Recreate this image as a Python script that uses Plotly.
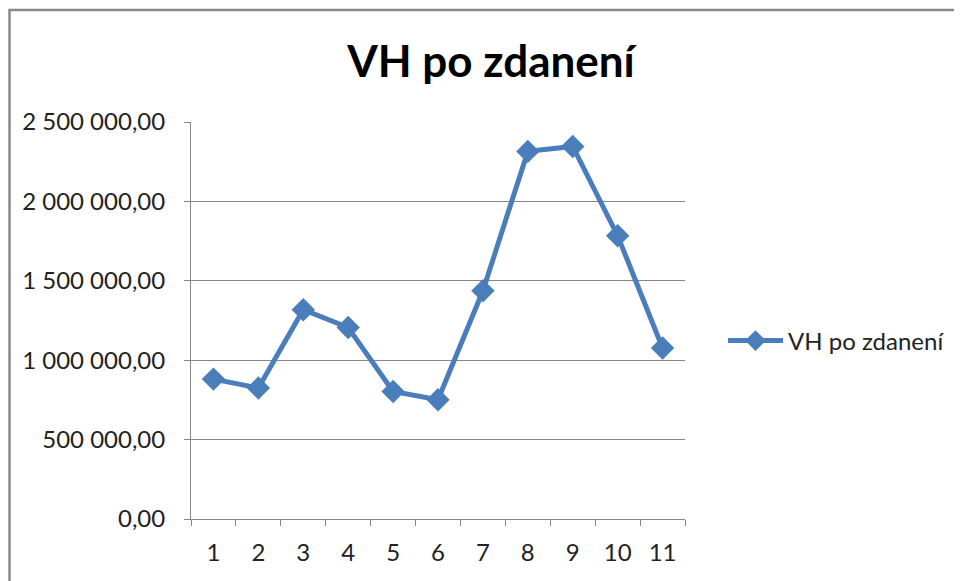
import plotly.graph_objects as go

categories = [str(i) for i in range(1, 12)]
values = [881000, 825000, 1318000, 1206000, 803000, 751000, 1437000, 2315000, 2346000, 1784000, 1077000]
series_name = "VH po zdanení"
y_ticks = [0, 500000, 1000000, 1500000, 2000000, 2500000]

OFF = 8  # page offset of the figure
W, H = 962 - OFF, 581 - OFF
# plot area in page pixels
PL, PR, PT, PB = 191, 685, 122, 519
ml, mt = PL - OFF, PT - OFF
mr, mb = W - (PR - OFF), H - (PB - OFF)
pw, ph = W - ml - mr, H - mt - mb

def px(x):
    return (x - OFF - ml) / pw

def py(y):
    return (H - mb - (y - OFF)) / ph

blue = "#4A7EBB"
grid = "#868686"
font = "Lato, 'Open Sans', sans-serif"

fig = go.Figure()
fig.add_trace(go.Scatter(
    x=categories, y=values, name=series_name, mode="lines+markers",
    line=dict(color=blue, width=5),
    marker=dict(symbol="diamond", size=18, color=blue),
))

fig.update_layout(
    width=W, height=H,
    margin=dict(l=ml, r=mr, t=mt, b=mb, autoexpand=False),
    paper_bgcolor="white", plot_bgcolor="white",
    separators=", ",
    title=dict(text="<b>VH po zdanení</b>", x=(491 - OFF) / W, xanchor="center",
               y=1 - (62 - OFF) / H, yanchor="middle",
               font=dict(family=font, size=44, color="black")),
    font=dict(family=font, size=24, color="#222222"),
    showlegend=True,
    legend=dict(x=px(723), y=py(341), xanchor="left", yanchor="middle",
                font=dict(size=24, color="#222222"), itemwidth=55,
                bgcolor="rgba(0,0,0,0)"),
    xaxis=dict(type="category", range=[-0.5, len(categories) - 0.5],
               showline=True, linecolor=grid, linewidth=1,
               ticks="outside", ticklen=6, tickcolor=grid, tickson="boundaries",
               showgrid=False, tickfont=dict(size=24), fixedrange=True,
               ticklabelstandoff=12),
    yaxis=dict(range=[0, 2500000], tickvals=y_ticks, tickformat=",.2f",
               showline=True, linecolor=grid, linewidth=1,
               ticks="outside", ticklen=6, tickcolor=grid,
               showgrid=True, gridcolor=grid, gridwidth=1, zeroline=False,
               tickfont=dict(size=24), ticklabelstandoff=14),
    shapes=[dict(type="rect", xref="paper", yref="paper",
                 x0=px(9.5), x1=px(975), y0=py(600), y1=py(10),
                 line=dict(color="#8A8A8A", width=2.5), layer="below")],
)

fig.write_html("out.html")
